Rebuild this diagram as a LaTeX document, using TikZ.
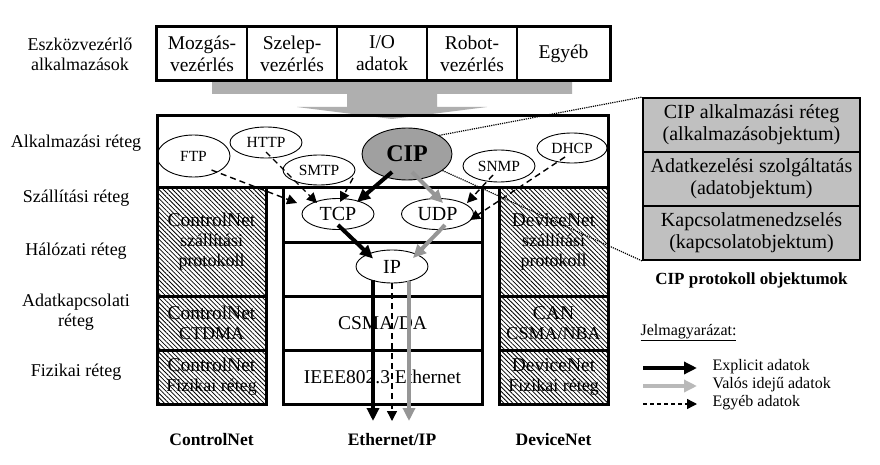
\documentclass[tikz,border=0pt]{standalone}
\usepackage{fontspec}
\setmainfont{Liberation Serif}
\usetikzlibrary{arrows.meta,shapes.geometric,patterns.meta}
\definecolor{arrowgray}{RGB}{175,175,175}
\definecolor{cipgray}{RGB}{160,160,160}
\definecolor{objgray}{RGB}{192,192,192}
\definecolor{rtgray}{RGB}{150,150,150}
\definecolor{keygray}{RGB}{185,185,185}
\newcommand{\fsz}[2]{\fontsize{#1}{#2}\selectfont}

\begin{document}
\begin{tikzpicture}[x=1pt,y=-1pt,line join=miter,
  cell/.style={draw,line width=1.4pt,minimum width=90pt,minimum height=53pt,inner sep=0pt,align=center,font=\fsz{19.5}{22}},
  layer box/.style={draw,line width=3pt,minimum width=199pt,minimum height=54pt,inner sep=0pt,align=center,font=\fsz{19.5}{22}},
  hatch box/.style={layer box,minimum width=109pt,pattern={Lines[angle=-45,distance=3.2pt,line width=0.8pt]},font=\fsz{19.5}{20}},
  obj box/.style={draw,line width=1.8pt,fill=objgray,minimum width=217pt,minimum height=54pt,inner sep=0pt,align=center,font=\fsz{20}{22}},
  proto/.style={ellipse,draw,line width=0.9pt,minimum width=72pt,minimum height=31pt,inner sep=0pt,font=\fsz{15.5}{17}},
  layer name/.style={align=center,font=\fsz{18}{20}},
  net name/.style={font=\bfseries\fsz{17.5}{20}},
  key text/.style={anchor=west,font=\fsz{16}{18}},
  expl/.style={line width=4pt,-{Triangle[length=13pt,width=12pt]}},
  realtime/.style={expl,draw=rtgray},
  other/.style={line width=1.4pt,dash pattern=on 6pt off 4pt,-{Triangle[length=10pt,width=10pt]}},
  lens/.style={line width=1.2pt,densely dotted}]
\fill[white] (0,0) rectangle (880,465);
\useasboundingbox (0,0) rectangle (880,465);

% layer names
\node[layer name] (l0) at (80,54) {Eszközvezérlő\\alkalmazások};
\node[layer name] (l1) at (76,143) {Alkalmazási réteg};
\node[layer name] (l2) at (76,198) {Szállítási réteg};
\node[layer name] (l3) at (76,251) {Hálózati réteg};
\node[layer name] (l4) at (76,312) {Adatkapcsolati\\réteg};
\node[layer name] (l5) at (76,372) {Fizikai réteg};

% big arrow
\fill[arrowgray] (212,80) -- (572,80) -- (572,94) -- (437,94) -- (437,107) -- (487,107)
  -- (392,119) -- (297,107) -- (347,107) -- (347,94) -- (212,94) -- cycle;

% device control applications
\node[cell] (mozg) at (202,53.5) {Mozgás-\\vezérlés};
\node[cell] (szel) at (292,53.5) {Szelep-\\vezérlés};
\node[cell] (io) at (382,53.5) {I/O\\adatok};
\node[cell] (robot) at (472,53.5) {Robot-\\vezérlés};
\node[cell,minimum width=93pt] (egyeb) at (563.5,53.5) {Egyéb};
\draw[line width=3.2pt] (mozg.north west) rectangle (egyeb.south east);

% application layer
\node[draw,line width=3pt,minimum width=451pt,minimum height=72pt,inner sep=0pt] (app) at (382.5,152) {};

% ControlNet
\node[hatch box,minimum height=108pt] (cn1) at (211.5,242) {ControlNet\\\fsz{18}{20}szállítási\\\fsz{18}{20}protokoll};
\node[hatch box] (cn2) at (211.5,323) {ControlNet\\\fsz{18}{20}CTDMA};
\node[hatch box] (cn3) at (211.5,377) {ControlNet\\\fsz{18}{20}Fizikai réteg};

% Ethernet/IP
\node[layer box] (trans) at (382.5,215) {};
\node[layer box] (net) at (382.5,269) {};
\node[layer box] (csma) at (382.5,323) {CSMA/DA};
\node[layer box] (phy) at (382.5,377) {IEEE802.3 Ethernet};

% DeviceNet
\node[hatch box,minimum height=108pt] (dn1) at (553.5,242) {DeviceNet\\\fsz{18}{20}szállítási\\\fsz{18}{20}protokoll};
\node[hatch box] (dn2) at (553.5,323) {CAN\\\fsz{18}{20}CSMA/NBA};
\node[hatch box] (dn3) at (553.5,377) {DeviceNet\\\fsz{18}{20}Fizikai réteg};

% protocols
\node[proto,minimum width=73pt,minimum height=42pt] (ftp) at (193.5,156) {FTP};
\node[proto] (http) at (266,142.5) {HTTP};
\node[proto,minimum height=30pt] (smtp) at (319,170) {SMTP};
\node[proto,fill=cipgray,minimum width=90pt,minimum height=52pt,font=\bfseries\fsz{24}{26}] (cip) at (407,154) {CIP};
\node[proto,minimum height=32pt] (snmp) at (499,166) {SNMP};
\node[proto,minimum width=70pt,minimum height=30pt] (dhcp) at (572,148) {DHCP};
\node[proto,font=\fsz{20}{22}] (tcp) at (338,214) {TCP};
\node[proto,font=\fsz{20}{22}] (udp) at (437.5,214) {UDP};
\node[proto,font=\fsz{20}{22},minimum height=33pt] (ip) at (392,266.5) {IP};

% data paths
\draw[expl] ([xshift=-15pt,yshift=-18pt]cip.center) -- ([xshift=19pt,yshift=12pt]tcp.center);
\draw[realtime] ([xshift=5pt,yshift=-18pt]cip.center) -- ([xshift=5.5pt,yshift=11pt]udp.center);
\draw[expl] ([yshift=-11pt]tcp.center) -- ([xshift=-19pt,yshift=8pt]ip.center);
\draw[realtime] ([xshift=7.5pt,yshift=-11pt]udp.center) -- ([xshift=21pt,yshift=8.5pt]ip.center);

\draw[other] ([xshift=18pt,yshift=-14pt]ftp.center) -- ([xshift=-41pt,yshift=11pt]tcp.center);
\draw[other] ([yshift=-9.5pt]http.center) -- ([xshift=-21pt,yshift=11pt]tcp.center);
\draw[other] ([xshift=34pt,yshift=-8pt]smtp.center) -- ([xshift=2pt,yshift=12pt]tcp.center);
\draw[other] ([xshift=-6pt,yshift=-9pt]snmp.center) -- ([xshift=29.5pt,yshift=11pt]udp.center);
\draw[other] ([xshift=-7pt,yshift=-9pt]dhcp.center) -- ([xshift=32.5pt,yshift=-6pt]udp.center);

\coordinate (outE) at (373,421);
\coordinate (outO) at (392,421);
\coordinate (outR) at (409,421);
\draw[expl] ([xshift=-19pt,yshift=3pt]ip.south) -- (outE);
\draw[other] (ip.south) -- (outO);
\draw[realtime] ([xshift=17pt,yshift=2pt]ip.south) -- (outR);

% network names
\node[net name] (cnet) at (211.5,440) {ControlNet};
\node[net name] (enet) at (392,440) {Ethernet/IP};
\node[net name] (dnet) at (553.5,440) {DeviceNet};

% CIP objects
\node[obj box] (cipapp) at (751.5,125) {CIP alkalmazási réteg\\(alkalmazásobjektum)};
\node[obj box] (adat) at (751.5,179) {Adatkezelési szolgáltatás\\(adatobjektum)};
\node[obj box] (kapcs) at (751.5,233) {Kapcsolatmenedzselés\\(kapcsolatobjektum)};
\node[net name,font=\bfseries\fsz{17}{20}] (objcap) at (751.5,280) {CIP protokoll objektumok};
\draw[lens] (cip.30) -- (cipapp.north west);
\draw[lens] (cip.-25) -- (kapcs.south west);

% legend
\node[key text] (key) at (637,333) {\underline{Jelmagyarázat:}};
\coordinate (k1a) at (643,368); \coordinate (k1b) at (697,368);
\coordinate (k2a) at (643,386); \coordinate (k2b) at (697,386);
\coordinate (k3a) at (643,404); \coordinate (k3b) at (697,404);
\draw[expl] (k1a) -- (k1b);
\draw[realtime,draw=keygray] (k2a) -- (k2b);
\draw[other,dash pattern=on 4pt off 3pt] (k3a) -- (k3b);
\node[key text] (k1) at (709,367) {Explicit adatok};
\node[key text] (k2) at (709,385) {Valós idejű adatok};
\node[key text] (k3) at (709,403) {Egyéb adatok};
\end{tikzpicture}
\end{document}
